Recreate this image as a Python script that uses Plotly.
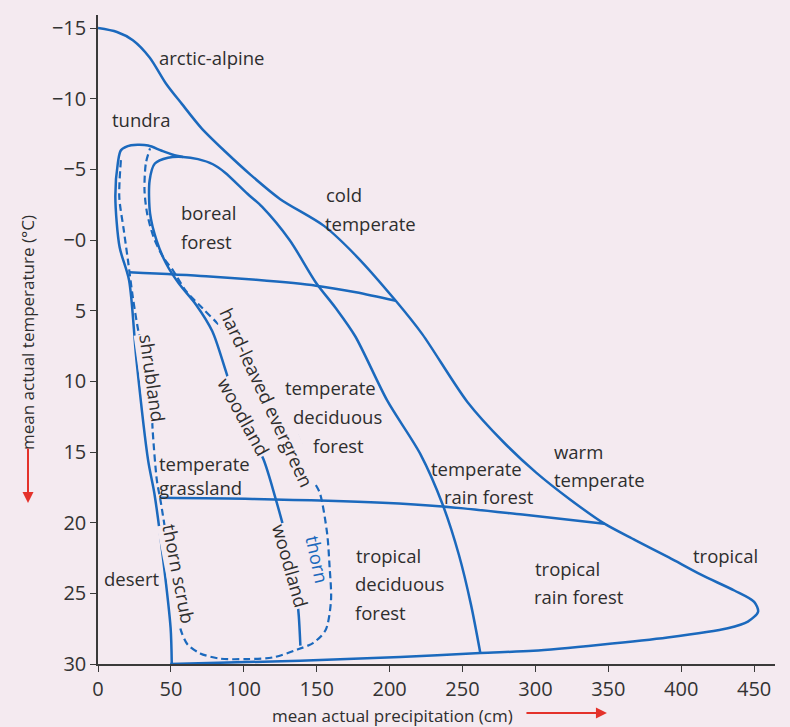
import plotly.graph_objects as go

# ---------------- data (precipitation in cm, temperature in deg C) ----------------
outer_precip = [0, 13.0, 23.9, 35.4, 46.7, 57.5, 70.9, 87.2, 104.7, 125, 155, 177.3, 204.2,
                222.4, 253.2, 278.2, 300.5, 323.5, 347.3, 368.4, 391.5, 413.9, 436.4, 450,
                452.7, 445.7, 431.9, 390.6, 344.6, 298.6, 262.2, 207.3, 138.6, 49.5]
outer_temp = [-15.0, -14.72, -14.14, -12.92, -11.06, -9.63, -7.92, -6.26, -4.61, -2.89, -1.0,
              1.15, 4.3, 6.66, 11.44, 14.31, 16.46, 18.34, 20.07, 21.23, 22.46, 23.7, 24.8,
              25.6, 26.3, 27.0, 27.47, 28.12, 28.63, 29.06, 29.22, 29.5, 29.77, 30.0]

# woodland line + boreal forest loop + temperate deciduous / rain forest boundary
inner_precip = [138.8, 137.7, 135.9, 132.8, 126.4, 121.8, 113.4, 98.1, 88.2, 78.4, 67, 55.6,
                46.8, 40.2, 35.7, 35.4, 39, 48, 58.3, 68.6, 78.8, 87, 102.5, 112.6, 131.5,
                149.5, 163, 176.4, 198.4, 221.1, 236.3, 247.5, 255.8, 262.2]
inner_temp = [28.7, 26.6, 24.7, 22.6, 20.0, 18.3, 15.5, 12.4, 9.45, 6.46, 4.54, 3.1, 1.68,
              0.04, -1.88, -4.21, -5.41, -5.82, -5.88, -5.72, -5.36, -4.78, -3.27, -2.34,
              0.02, 3.02, 4.81, 6.81, 11.37, 15.15, 18.7, 22.27, 25.8, 29.22]

# shrubland / desert boundary
shrub_precip = [50.6, 49.8, 44.8, 38.7, 34.4, 26.4, 21.3, 14.8, 11.9, 13.6, 15.8, 22.7, 34.4,
                43.3, 51.4, 58.3]
shrub_temp = [30.0, 27.45, 22.7, 17.95, 15.61, 8.51, 2.85, 0.5, -3.04, -5.44, -6.36, -6.71,
              -6.69, -6.33, -6.03, -5.88]

# upper and lower cross lines
upper_precip = [21.4, 74.1, 108.4, 149.5, 176.9, 204.2]
upper_temp = [2.28, 2.56, 2.82, 3.23, 3.7, 4.3]
lower_precip = [42.3, 106, 195.2, 236.3, 291.1, 347.3]
lower_temp = [18.24, 18.32, 18.59, 18.85, 19.43, 20.07]

# dashed thorn loop
thorn_precip = [15.7, 14.6, 17.7, 20.8, 23.9, 27.6, 32.1, 36.5, 37.5, 40.4, 42.9, 47.3, 51.7,
                54.8, 56.6, 61.3, 70.1, 83.7, 102.3, 120.1, 136.7, 147.7, 156.1, 159.8, 158.8,
                157.1, 152.1, 147.4, 138.9, 127.6, 119, 100.8, 82.6, 71.7, 60.3, 51.6, 44.9,
                38.2, 33.7, 31.9, 32.8, 35.7]
thorn_temp = [-5.65, -3.04, -0.69, 1.64, 4.06, 6.4, 8.53, 11.36, 13.49, 17.03, 18.45, 21.29,
              24.13, 26.25, 27.53, 28.6, 29.25, 29.62, 29.65, 29.53, 28.98, 28.5, 27.6, 25.48,
              23.07, 20.73, 17.89, 16.96, 14.33, 11.98, 10.06, 8.05, 5.97, 4.83, 3.61, 2.18,
              1.25, -0.18, -1.88, -3.51, -5.42, -6.48]

# horizontal labels: text, precipitation, temperature, anchor
label_text = ["arctic-alpine", "tundra", "boreal", "forest", "cold", "temperate",
              "temperate", "deciduous", "forest", "temperate<br>grassland", "desert",
              "tropical", "deciduous", "forest", "temperate", "rain forest", "warm",
              "temperate", "tropical", "rain forest", "tropical"]
label_precip = [40.8, 8.5, 55.6, 55.3, 154.7, 154.4, 159.4, 164, 165, 40.5, 2.4,
                175.5, 175.2, 174.8, 227.2, 235.8, 311.7, 311.4, 298.1, 297.8, 406.6]
label_temp = [-12.91, -8.56, -1.92, 0.14, -3.2, -1.2, 10.47, 12.46, 14.51, 16.68, 23.92,
              22.31, 24.3, 26.35, 16.16, 18.15, 14.93, 16.98, 23.26, 25.24, 22.35]
label_anchor = ["left", "left", "left", "left", "left", "left", "center", "center", "center",
                "left", "left", "left", "left", "left", "left", "left", "left",
                "left", "left", "left", "left"]

# rotated labels laid along lines (mask = hide the line under the text)
rot_text = ["shrubland", "thorn scrub", "hard-leaved evergreen", "woodland", "woodland", "thorn"]
rot_precip = [37.4, 55.6, 116.1, 100.1, 132.1, 150.5]
rot_temp = [9.74, 23.6, 11.12, 12.51, 23.03, 22.63]
rot_angle = [82, 79, 65, 61, 74, 78]
rot_mask = [True, True, True, True, True, False]

x_ticks = [0, 50, 100, 150, 200, 250, 300, 350, 400, 450]
y_ticks = [-15, -10, -5, 0, 5, 10, 15, 20, 25, 30]
y_tick_text = ["\u221215", "\u221210", "\u22125", "\u22120", "5", "10", "15", "20", "25", "30"]

# ---------------- styling ----------------
BG = "rgb(244,234,240)"
BLUE = "#1b69bd"
TXT = "#2e2e2e"
FONT = "Open Sans"
LSIZE = 18.5

fig = go.Figure()
solid = dict(color=BLUE, width=2.5, shape="spline", smoothing=0.8)
for xs, ys in [(outer_precip, outer_temp), (inner_precip, inner_temp),
               (shrub_precip, shrub_temp), (upper_precip, upper_temp),
               (lower_precip, lower_temp)]:
    fig.add_trace(go.Scatter(x=xs, y=ys, mode="lines", line=solid,
                             hoverinfo="skip", showlegend=False))
fig.add_trace(go.Scatter(x=thorn_precip, y=thorn_temp, mode="lines",
                         line=dict(color=BLUE, width=2.2, dash="7px,4px",
                                   shape="spline", smoothing=0.8),
                         hoverinfo="skip", showlegend=False))

for t, x, y, a in zip(label_text, label_precip, label_temp, label_anchor):
    fig.add_annotation(x=x, y=y, text=t, showarrow=False, xanchor=a, yanchor="middle",
                       align="left", font=dict(family=FONT, size=LSIZE, color=TXT))

for t, x, y, ang, m in zip(rot_text, rot_precip, rot_temp, rot_angle, rot_mask):
    col = BLUE if t == "thorn" else TXT
    fig.add_annotation(x=x, y=y, text=t, showarrow=False, xanchor="center",
                       yanchor="middle", textangle=ang,
                       bgcolor=BG if m else "rgba(0,0,0,0)", borderpad=0,
                       font=dict(family=FONT, size=LSIZE, color=col))

# axis titles with red arrows
fig.add_annotation(xref="paper", yref="paper", x=-0.1034, y=0.5116,
                   xanchor="center", yanchor="middle",
                   text="mean actual temperature (\u00b0C)", textangle=-90,
                   showarrow=False, font=dict(family=FONT, size=17, color=TXT))
fig.add_annotation(xref="paper", yref="paper", x=-0.1034, y=0.248, text="",
                   showarrow=True, ax=0, ay=-56, arrowhead=2, arrowsize=1.1,
                   arrowwidth=2, arrowcolor="#e4322b")
fig.add_annotation(xref="paper", yref="paper", x=0.4343, y=-0.0801,
                   xanchor="center", yanchor="middle",
                   text="mean actual precipitation (cm)", showarrow=False,
                   font=dict(family=FONT, size=17, color=TXT))
fig.add_annotation(xref="paper", yref="paper", x=0.7518, y=-0.0755, text="",
                   showarrow=True, ax=-82, ay=0, arrowhead=2, arrowsize=1.1,
                   arrowwidth=2, arrowcolor="#e4322b")

fig.update_layout(
    width=790, height=727,
    margin=dict(l=98, r=15, t=15, b=63),
    paper_bgcolor=BG, plot_bgcolor=BG,
    xaxis=dict(range=[0, 464.3], tickvals=x_ticks, ticktext=[str(v) for v in x_ticks],
               showgrid=False, zeroline=False, showline=True, linecolor="#3a3a3a",
               linewidth=1.5, ticks="outside", ticklen=6, tickcolor="#3a3a3a",
               tickfont=dict(family=FONT, size=20, color="#333")),
    yaxis=dict(range=[30, -15.92], tickvals=y_ticks, ticktext=y_tick_text,
               showgrid=False, zeroline=False, showline=True, linecolor="#3a3a3a",
               linewidth=1.5, ticks="outside", ticklen=6, tickcolor="#3a3a3a",
               tickfont=dict(family=FONT, size=20, color="#333")),
)

fig.write_html("out.html", config={"displayModeBar": False},
               post_script="document.body.style.margin='0';")
